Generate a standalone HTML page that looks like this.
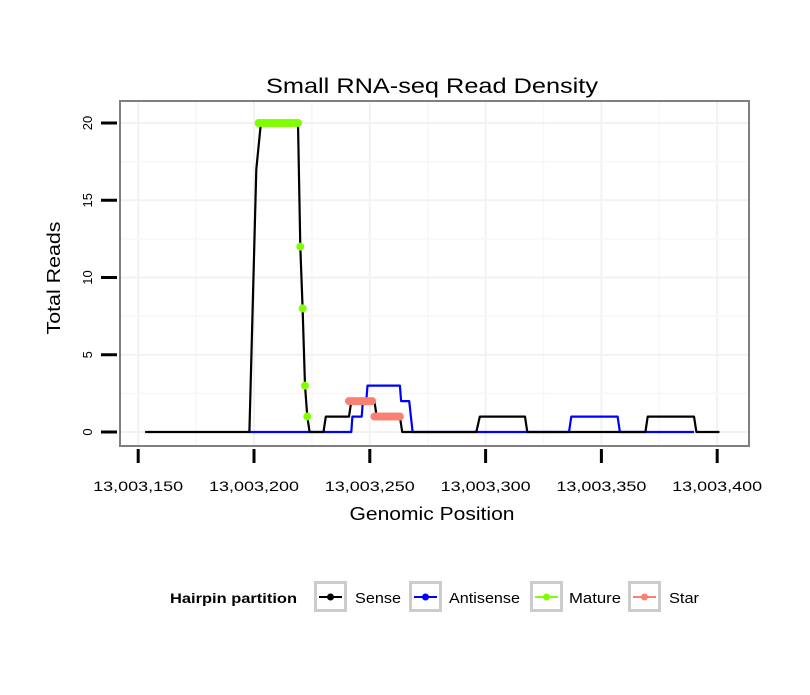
<!DOCTYPE html>
<html><head><meta charset="utf-8"><style>
body{margin:0;background:#fff;font-family:"Liberation Sans",sans-serif}
svg text{font-family:"Liberation Sans",sans-serif}
</style></head><body>
<svg id="chart" width="810" height="690" viewBox="0 0 810 690">
<rect x="0" y="0" width="810" height="690" fill="#fff"/>
<text x="432" y="93" font-size="21" text-anchor="middle" textLength="332" lengthAdjust="spacingAndGlyphs">Small RNA-seq Read Density</text>
<g id="grid"></g>
<g id="series"></g>
<rect x="120" y="101" width="629" height="345" fill="none" stroke="#7f7f7f" stroke-width="2"/>
<g id="axes"></g>
<text x="432" y="520" font-size="18" text-anchor="middle" textLength="165" lengthAdjust="spacingAndGlyphs">Genomic Position</text>
<text transform="translate(60,278) rotate(-90)" font-size="18" text-anchor="middle" textLength="113" lengthAdjust="spacingAndGlyphs">Total Reads</text>
<g id="legend">
<text x="170" y="603" font-size="14" font-weight="bold" textLength="127" lengthAdjust="spacingAndGlyphs">Hairpin partition</text>
</g>
</svg>
<script>
const xTicks=[13003150,13003200,13003250,13003300,13003350,13003400];
const yTicks=[0,5,10,15,20];
const senseX=[153,198,201,203,219,220,221,222,223,224,230,231,241,242,252,253,263,264,296,297.5,317,318,369,370,390,391,401];
const senseY=[0,0,17,20,20,12,8,3,1,0,0,1,1,2,2,1,1,0,0,1,1,0,0,1,1,0,0];
const antiX=[198,242,242.5,246.5,247,248.5,249,263,263.5,267,268.5,336,337,357,358,390];
const antiY=[0,0,1,1,2,2,3,3,2,2,0,0,1,1,0,0];
const matureX=[202,203,204,205,206,207,208,209,210,211,212,213,214,215,216,217,218,219,220,221,222,223];
const matureY=[20,20,20,20,20,20,20,20,20,20,20,20,20,20,20,20,20,20,12,8,3,1];
const starX=[241,242,243,244,245,246,247,248,249,250,251,252,253,254,255,256,257,258,259,260,261,262,263];
const starY=[2,2,2,2,2,2,2,2,2,2,2,1,1,1,1,1,1,1,1,1,1,1,1];
const legendLabels=["Sense","Antisense","Mature","Star"];
const legendColors=["#000000","#0000ff","#7fff00","#fa8072"];
const base=13003000;
function sx(p){p=p>100000?p-base:p;return 254+(p-200)*2.316;}
function sy(v){return 432-v*15.45;}
const NS="http://www.w3.org/2000/svg";
function mk(t,a,parent){const e=document.createElementNS(NS,t);for(const k in a)e.setAttribute(k,a[k]);parent.appendChild(e);return e;}
const grid=document.getElementById('grid'),axes=document.getElementById('axes'),series=document.getElementById('series'),legend=document.getElementById('legend');
for(let i=0;i<xTicks.length;i++){
 const x=sx(xTicks[i]);
 const g=mk('line',{x1:x,x2:x,y1:101,y2:446,stroke:'#f2f2f2','stroke-width':2},grid);
 
 
 if(i<xTicks.length-1){const xm=sx((xTicks[i]+xTicks[i+1])/2);
 const m=mk('line',{x1:xm,x2:xm,y1:101,y2:446,stroke:'#f7f7f7','stroke-width':1.5},grid);
 
 }
 const t=mk('line',{x1:x,x2:x,y1:449,y2:463,stroke:'#000','stroke-width':3},axes);
 
 
 const l=mk('text',{x:x,y:491,'font-size':14,'text-anchor':'middle',textLength:90,lengthAdjust:'spacingAndGlyphs'},axes);
 l.textContent=xTicks[i].toLocaleString('en-US');
 
 
}
for(let i=0;i<yTicks.length;i++){
 const y=sy(yTicks[i]);
 const g=mk('line',{x1:121,x2:748,y1:y,y2:y,stroke:'#f2f2f2','stroke-width':2},grid);
 
 
 if(i<yTicks.length-1){const ym=sy((yTicks[i]+yTicks[i+1])/2);
 const m=mk('line',{x1:121,x2:748,y1:ym,y2:ym,stroke:'#f7f7f7','stroke-width':1.5},grid);
 
 }
 const t=mk('line',{x1:101,x2:117,y1:y,y2:y,stroke:'#000','stroke-width':3},axes);
 
 
 const l=mk('text',{transform:`translate(92,${y}) rotate(-90)`,'font-size':13,'text-anchor':'middle'},axes);
 l.textContent=yTicks[i];
 
 
}
function pts(X,Y){return X.map((x,i)=>sx(x).toFixed(1)+','+sy(Y[i]).toFixed(1)).join(' ');}
const al=mk('polyline',{points:pts(antiX,antiY),fill:'none',stroke:'#0000ff','stroke-width':2.2,'stroke-linejoin':'round'},series);


const sl=mk('polyline',{points:pts(senseX,senseY),fill:'none',stroke:'#000','stroke-width':2.2,'stroke-linejoin':'round'},series);


for(let i=0;i<matureX.length;i++){
 const c=mk('circle',{cx:sx(matureX[i]),cy:sy(matureY[i]),r:4,fill:'#7fff00'},series);
 
 
}
for(let i=0;i<starX.length;i++){
 const c=mk('circle',{cx:sx(starX[i]),cy:sy(starY[i]),r:4,fill:'#fa8072'},series);
 
 
}
const boxX=[314,409,530,628],labX=[355,449,569,669],labW=[46,71,52,30];
for(let i=0;i<legendLabels.length;i++){
 const b=mk('rect',{x:boxX[i]+1.5,y:582.5,width:30,height:28,fill:'#fff',stroke:'#cccccc','stroke-width':3},legend);
 
 
 const ln=mk('line',{x1:boxX[i]+5,x2:boxX[i]+28,y1:597,y2:597,stroke:legendColors[i],'stroke-width':2},legend);
 
 
 const d=mk('circle',{cx:boxX[i]+16.5,cy:597,r:3.5,fill:legendColors[i]},legend);
 
 
 const t=mk('text',{x:labX[i],y:603,'font-size':15,textLength:labW[i],lengthAdjust:'spacingAndGlyphs'},legend);
 t.textContent=legendLabels[i];
 
 
}
</script>
</body></html>
